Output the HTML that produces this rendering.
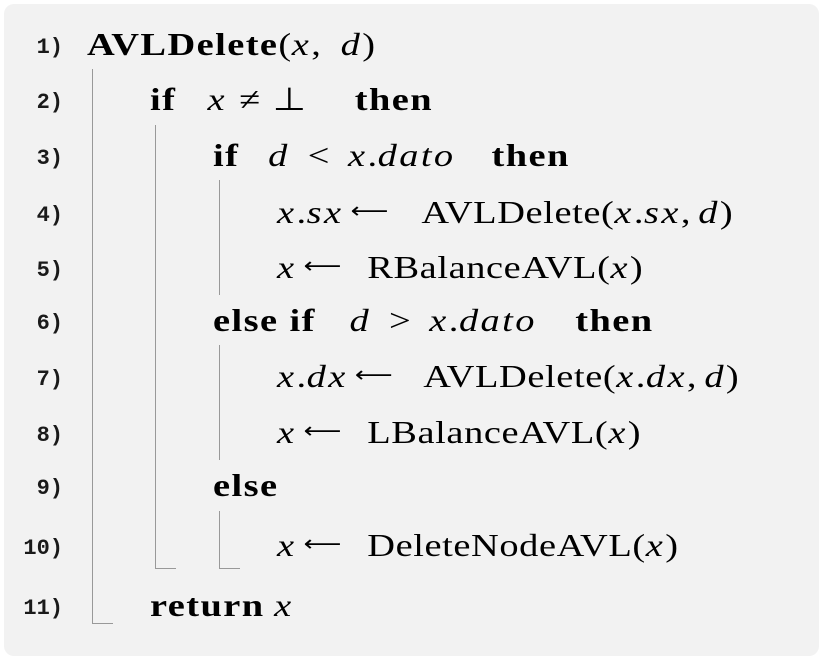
<!DOCTYPE html>
<html><head><meta charset="utf-8"><style>
body{margin:0;width:824px;height:662px;background:#fff;position:relative;overflow:hidden}
.panel{position:absolute;left:4px;top:4px;width:815px;height:652px;background:#f2f2f2;border-radius:10px}
.r{position:absolute;height:40px;line-height:40px;white-space:nowrap;font-family:"Liberation Serif",serif;font-size:32px;color:#000;transform:scaleX(1.2);transform-origin:0 50%;letter-spacing:0.5px}
.n{position:absolute;height:40px;line-height:40px;font-family:"Liberation Mono",monospace;font-size:22px;font-weight:bold;color:#1a1a1a;width:63px;text-align:right}
b{font-weight:bold;letter-spacing:1.2px}
i{font-style:italic;letter-spacing:2px}
.a{display:inline-block;width:33px;margin:0 20px 0 6px;font-family:"DejaVu Sans",sans-serif;font-size:22px;vertical-align:top;overflow:visible;letter-spacing:0}
.s{display:inline-block}
.v{position:absolute;width:1px;background:#999}
.h{position:absolute;height:1px;background:#999}
</style></head><body>
<div class="panel"></div>
<div class="n" style="top:28px">1)</div>
<div class="n" style="top:83px">2)</div>
<div class="n" style="top:139px">3)</div>
<div class="n" style="top:196px">4)</div>
<div class="n" style="top:251px">5)</div>
<div class="n" style="top:304px">6)</div>
<div class="n" style="top:360px">7)</div>
<div class="n" style="top:416px">8)</div>
<div class="n" style="top:469px">9)</div>
<div class="n" style="top:529px">10)</div>
<div class="n" style="top:589px">11)</div>

<div class="r" style="left:87px;top:24px"><b>AVLDelete</b>(<i>x</i>,<span class="s" style="width:16px"></span><i>d</i>)</div>
<div class="r" style="left:150px;top:79px"><b>if</b><span class="s" style="width:26px"></span><i>x</i><span class="s" style="width:10px"></span>≠<span class="s" style="width:10px"></span>⊥<span class="s" style="width:40px"></span><b>then</b></div>
<div class="r" style="left:213px;top:135px"><b>if</b><span class="s" style="width:24px"></span><i>d</i><span class="s" style="width:15px"></span>&lt;<span class="s" style="width:15px"></span><i>x</i>.<i>dato</i><span class="s" style="width:30px"></span><b>then</b></div>
<div class="r" style="left:277px;top:192px"><i>x</i>.<i>sx</i><span class="a" style="margin-right:26px">⟵</span>AVLDelete(<i>x</i>.<i>sx</i>,<span class="s" style="width:6px"></span><i>d</i>)</div>
<div class="r" style="left:277px;top:247px"><i>x</i><span class="a">⟵</span>RBalanceAVL(<i>x</i>)</div>
<div class="r" style="left:213px;top:300px"><b>else if</b><span class="s" style="width:28px"></span><i>d</i><span class="s" style="width:15px"></span>&gt;<span class="s" style="width:15px"></span><i>x</i>.<i>dato</i><span class="s" style="width:32px"></span><b>then</b></div>
<div class="r" style="left:277px;top:356px"><i>x</i>.<i>dx</i><span class="a" style="margin-right:24px">⟵</span>AVLDelete(<i>x</i>.<i>dx</i>,<span class="s" style="width:6px"></span><i>d</i>)</div>
<div class="r" style="left:277px;top:412px"><i>x</i><span class="a">⟵</span>LBalanceAVL(<i>x</i>)</div>
<div class="r" style="left:213px;top:465px"><b>else</b></div>
<div class="r" style="left:277px;top:525px"><i>x</i><span class="a">⟵</span>DeleteNodeAVL(<i>x</i>)</div>
<div class="r" style="left:150px;top:585px"><b>return</b><span class="s" style="width:8px"></span><i>x</i></div>

<div class="v" style="left:92px;top:69px;height:554px"></div>
<div class="h" style="left:92px;top:623px;width:21px"></div>
<div class="v" style="left:155px;top:125px;height:443px"></div>
<div class="h" style="left:155px;top:568px;width:21px"></div>
<div class="v" style="left:219px;top:180px;height:115px"></div>
<div class="v" style="left:219px;top:345px;height:115px"></div>
<div class="v" style="left:219px;top:511px;height:57px"></div>
<div class="h" style="left:219px;top:568px;width:21px"></div>
</body></html>
